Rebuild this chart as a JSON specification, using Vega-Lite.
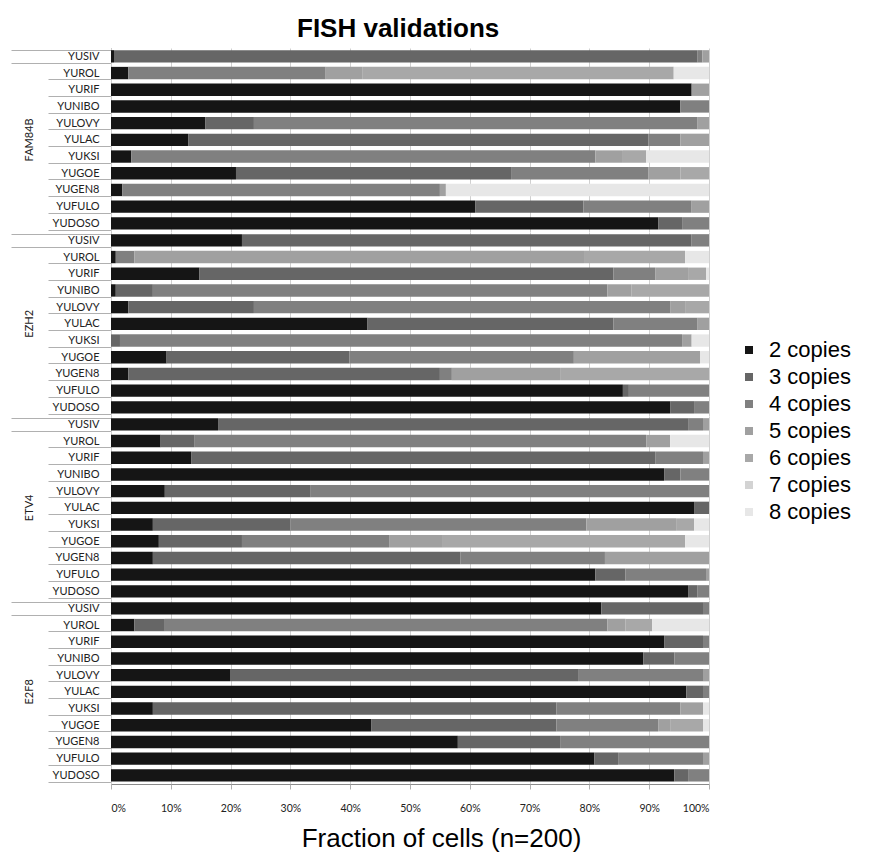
{
  "$schema": "https://vega.github.io/schema/vega-lite/v6.json",
  "padding": {"left": 10, "top": 16, "right": 5, "bottom": 5},
  "background": "white",
  "title": {"text": "FISH validations", "font": "Liberation Sans", "fontSize": 26, "fontWeight": "bold", "color": "#000", "anchor": "start", "frame": "group", "offset": 0, "dx": 186},
  "data": {"values": [
    {"g":"FAM84B","s":"YUSIV","2 copies":0.5,"3 copies":97.6,"4 copies":0.8,"5 copies":1.1},
    {"g":"FAM84B","s":"YUROL","2 copies":2.9,"4 copies":33.0,"5 copies":6.1,"6 copies":52.1,"8 copies":5.9},
    {"g":"FAM84B","s":"YURIF","2 copies":97.1,"5 copies":2.9},
    {"g":"FAM84B","s":"YUNIBO","2 copies":95.2,"4 copies":4.8},
    {"g":"FAM84B","s":"YULOVY","2 copies":15.8,"3 copies":8.1,"4 copies":74.2,"5 copies":1.9},
    {"g":"FAM84B","s":"YULAC","2 copies":12.9,"3 copies":77.0,"4 copies":5.3,"5 copies":4.8},
    {"g":"FAM84B","s":"YUKSI","2 copies":3.4,"4 copies":77.6,"5 copies":4.6,"6 copies":3.9,"8 copies":10.5},
    {"g":"FAM84B","s":"YUGOE","2 copies":20.9,"3 copies":46.0,"4 copies":23.0,"5 copies":5.3,"6 copies":4.8},
    {"g":"FAM84B","s":"YUGEN8","2 copies":1.9,"4 copies":53.1,"5 copies":1.0,"8 copies":44.0},
    {"g":"FAM84B","s":"YUFULO","2 copies":60.9,"3 copies":18.1,"4 copies":18.1,"5 copies":2.9},
    {"g":"FAM84B","s":"YUDOSO","2 copies":91.5,"3 copies":4.0,"4 copies":4.5},
    {"g":"EZH2","s":"YUSIV","2 copies":21.9,"3 copies":75.2,"4 copies":2.9},
    {"g":"EZH2","s":"YUROL","2 copies":0.8,"4 copies":3.1,"5 copies":75.2,"6 copies":16.9,"8 copies":4.0},
    {"g":"EZH2","s":"YURIF","2 copies":14.8,"3 copies":69.2,"4 copies":7.0,"5 copies":5.5,"6 copies":3.0,"8 copies":0.5},
    {"g":"EZH2","s":"YUNIBO","2 copies":0.8,"3 copies":6.2,"4 copies":76.0,"5 copies":4.0,"6 copies":13.0},
    {"g":"EZH2","s":"YULOVY","2 copies":2.9,"3 copies":21.0,"4 copies":69.6,"5 copies":2.5,"6 copies":4.0},
    {"g":"EZH2","s":"YULAC","2 copies":42.9,"3 copies":41.1,"4 copies":14.1,"5 copies":1.9},
    {"g":"EZH2","s":"YUKSI","3 copies":1.5,"4 copies":94.0,"5 copies":1.6,"8 copies":2.9},
    {"g":"EZH2","s":"YUGOE","2 copies":9.3,"3 copies":30.6,"4 copies":37.5,"5 copies":21.1,"8 copies":1.5},
    {"g":"EZH2","s":"YUGEN8","2 copies":2.9,"3 copies":52.1,"4 copies":2.0,"5 copies":18.1,"6 copies":24.9},
    {"g":"EZH2","s":"YUFULO","2 copies":85.6,"3 copies":1.0,"4 copies":13.4},
    {"g":"EZH2","s":"YUDOSO","2 copies":93.5,"3 copies":4.0,"4 copies":2.5},
    {"g":"ETV4","s":"YUSIV","2 copies":17.9,"3 copies":78.6,"4 copies":2.5,"5 copies":1.0},
    {"g":"ETV4","s":"YUROL","2 copies":8.3,"3 copies":5.6,"4 copies":75.6,"5 copies":4.0,"8 copies":6.5},
    {"g":"ETV4","s":"YURIF","2 copies":13.4,"3 copies":77.6,"4 copies":8.0,"5 copies":1.0},
    {"g":"ETV4","s":"YUNIBO","2 copies":92.5,"3 copies":2.7,"4 copies":4.8},
    {"g":"ETV4","s":"YULOVY","2 copies":9.0,"3 copies":24.4,"4 copies":66.6},
    {"g":"ETV4","s":"YULAC","2 copies":97.5,"3 copies":2.5},
    {"g":"ETV4","s":"YUKSI","2 copies":7.0,"3 copies":23.0,"4 copies":49.5,"5 copies":15.0,"6 copies":3.0,"8 copies":2.5},
    {"g":"ETV4","s":"YUGOE","2 copies":8.0,"3 copies":13.9,"4 copies":24.6,"5 copies":9.0,"6 copies":40.5,"8 copies":4.0},
    {"g":"ETV4","s":"YUGEN8","2 copies":7.0,"3 copies":51.4,"4 copies":24.2,"5 copies":17.4},
    {"g":"ETV4","s":"YUFULO","2 copies":81.0,"3 copies":5.0,"4 copies":13.5,"5 copies":0.5},
    {"g":"ETV4","s":"YUDOSO","2 copies":96.5,"3 copies":1.6,"4 copies":1.9},
    {"g":"E2F8","s":"YUSIV","2 copies":82.0,"3 copies":17.0,"4 copies":1.0},
    {"g":"E2F8","s":"YUROL","2 copies":3.9,"3 copies":5.1,"4 copies":74.0,"5 copies":3.0,"6 copies":4.5,"8 copies":9.5},
    {"g":"E2F8","s":"YURIF","2 copies":92.5,"3 copies":6.5,"4 copies":1.0},
    {"g":"E2F8","s":"YUNIBO","2 copies":89.0,"3 copies":5.2,"4 copies":5.8},
    {"g":"E2F8","s":"YULOVY","2 copies":19.9,"3 copies":58.2,"4 copies":20.9,"5 copies":1.0},
    {"g":"E2F8","s":"YULAC","2 copies":96.2,"3 copies":2.8,"4 copies":1.0},
    {"g":"E2F8","s":"YUKSI","2 copies":7.0,"3 copies":67.5,"4 copies":20.7,"5 copies":3.8,"8 copies":1.0},
    {"g":"E2F8","s":"YUGOE","2 copies":43.5,"3 copies":31.0,"4 copies":17.0,"5 copies":2.0,"6 copies":5.5,"8 copies":1.0},
    {"g":"E2F8","s":"YUGEN8","2 copies":58.0,"3 copies":17.1,"4 copies":24.9},
    {"g":"E2F8","s":"YUFULO","2 copies":80.8,"3 copies":4.0,"4 copies":14.2,"5 copies":1.0},
    {"g":"E2F8","s":"YUDOSO","2 copies":94.2,"3 copies":2.3,"4 copies":3.5}
  ]},
  "transform": [
    {"fold": ["2 copies","3 copies","4 copies","5 copies","6 copies","7 copies","8 copies"], "as": ["c","v"]},
    {"filter": "isValid(datum.v) && datum.v > 0"}
  ],
  "facet": {
    "row": {"field": "g", "type": "nominal", "sort": ["FAM84B","EZH2","ETV4","E2F8"],
      "header": {"title": null, "labelOrient": "left", "labelAngle": -90, "labelAlign": "center", "labelFont": "Lato", "labelFontSize": 11, "labelColor": "#222", "labelPadding": -30}}
  },
  "spacing": 0,
  "spec": {
    "width": 598,
    "height": {"step": 16.7},
    "view": {"stroke": null},
    "mark": {"type": "bar"},
    "encoding": {
      "y": {"field": "s", "type": "nominal",
        "sort": ["YUSIV","YUROL","YURIF","YUNIBO","YULOVY","YULAC","YUKSI","YUGOE","YUGEN8","YUFULO","YUDOSO"],
        "scale": {"paddingInner": 0.26, "paddingOuter": 0.13},
        "axis": {"title": null, "domainColor": "#8a8a8a", "tickBand": "extent", "tickColor": "#b0b0b0",
          "tickSize": {"condition": {"test": "datum.index <= 0 || isValid(datum.extra)", "value": 100}, "value": 63},
          "labelPadding": {"condition": {"test": "datum.index == 0", "value": -88}, "value": -51},
          "labelFont": "Lato", "labelFontSize": 11, "labelColor": "#222"}},
      "x": {"field": "v", "type": "quantitative", "stack": "normalize",
        "axis": {"title": "Fraction of cells (n=200)", "titleFont": "Liberation Sans", "titleFontSize": 26, "titleFontWeight": "normal", "titleColor": "#000", "titlePadding": 12, "titleX": 330,
          "format": ".0%", "values": [0,0.1,0.2,0.3,0.4,0.5,0.6,0.7,0.8,0.9,1],
          "grid": true, "gridColor": "#d0d0d0", "domainColor": "#8a8a8a", "tickColor": "#b0b0b0", "tickSize": 5,
          "labelFont": "Lato", "labelFontSize": 10.5, "labelColor": "#222", "labelPadding": 14}},
      "color": {"field": "c", "type": "nominal",
        "scale": {"domain": ["2 copies","3 copies","4 copies","5 copies","6 copies","7 copies","8 copies"],
          "range": ["#151515","#666666","#808080","#a0a0a0","#a8a8a8","#d3d3d3","#e7e7e7"]},
        "legend": {"title": null, "orient": "none", "legendX": 627, "legendY": 291, "labelFont": "Liberation Sans", "labelFontSize": 22, "labelColor": "#000",
          "symbolType": "square", "symbolSize": 64, "symbolStrokeWidth": 0, "rowPadding": 5, "labelOffset": 9}},
      "order": {"field": "c", "sort": "ascending"}
    }
  }
}
